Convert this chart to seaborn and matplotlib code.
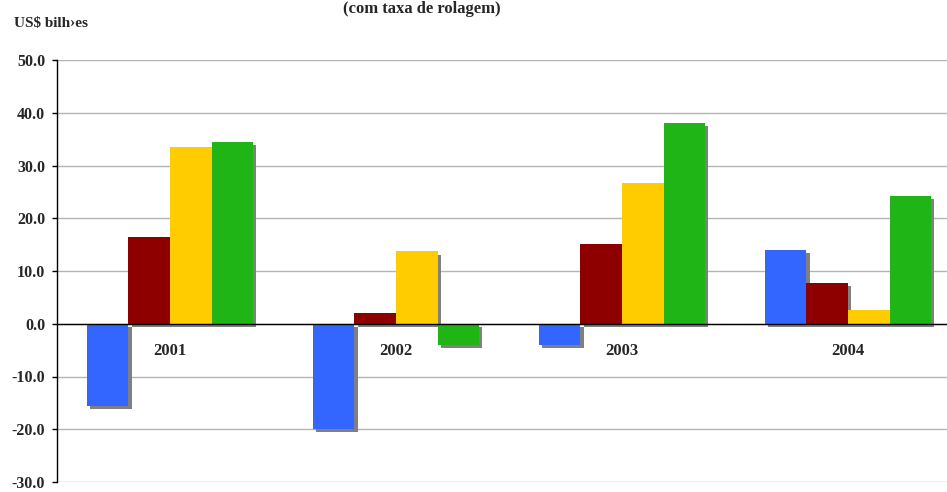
import pandas as pd
import matplotlib.pyplot as plt
import matplotlib.patheffects as pe
import seaborn as sns

# data (US$ bilhões)
anos = ['2001', '2002', '2003', '2004']
series = ['Série 1', 'Série 2', 'Série 3', 'Série 4']
serie_1 = [-15.6, -20.0, -4.0, 13.9]
serie_2 = [16.4, 2.1, 15.2, 7.7]
serie_3 = [33.6, 13.7, 26.7, 2.7]
serie_4 = [34.4, -4.0, 38.0, 24.3]
cores = ['#3366FF', '#8E0000', '#FFCC00', '#20B516']
y_ticks = [-30, -20, -10, 0, 10, 20, 30, 40, 50]

rows = []
for nome, vals in zip(series, [serie_1, serie_2, serie_3, serie_4]):
    for ano, v in zip(anos, vals):
        rows.append({'ano': ano, 'serie': nome, 'valor': v})
df = pd.DataFrame(rows)

sns.set_style('white')
plt.rcParams['font.family'] = ['Liberation Serif', 'DejaVu Serif']
plt.rcParams['font.weight'] = 'bold'

fig = plt.figure(figsize=(9.47, 4.92), dpi=100)
ax = fig.add_axes([57 / 947, 10 / 492, 890 / 947, 422 / 492])

sns.barplot(data=df, x='ano', y='valor', hue='serie', palette=cores,
            width=0.735, saturation=1, legend=False, ax=ax)

# grey drop shadow on every bar
for p in ax.patches:
    p.set_linewidth(0)
    p.set_path_effects([pe.SimplePatchShadow(offset=(2.2, -2.2), shadow_rgbFace='#808080', alpha=1),
                        pe.Normal()])

ax.set_ylim(-30, 50)
ax.set_xlim(-0.5, -0.5 + 890 / 226)
ax.set_yticks(y_ticks)
ax.set_yticklabels([f'{v:.1f}' for v in y_ticks])
ax.yaxis.grid(True, color='#b4b4b4', lw=1)
ax.set_axisbelow(True)

ax.set_xticks([0.5, 1.5, 2.5])
ax.set_xticklabels([])
ax.set_xticks(range(len(anos)), minor=True)
ax.set_xticklabels(anos, minor=True)
ax.tick_params(axis='x', which='major', direction='out', length=4, color='#555555', width=1)
ax.tick_params(axis='x', which='minor', length=0, pad=14, labelsize=12)
ax.tick_params(axis='y', direction='out', length=3.6, width=1, color='black', pad=5, labelsize=11.5, left=True)

ax.spines['top'].set_visible(False)
ax.spines['right'].set_visible(False)
ax.spines['bottom'].set_position(('data', 0))
ax.spines['bottom'].set_color('black')
ax.spines['left'].set_color('black')
ax.spines['left'].set_linewidth(1)
ax.spines['bottom'].set_linewidth(1)
ax.set_xlabel('')
ax.set_ylabel('')

fig.text(422 / 947, 1 - 1 / 492, '(com taxa de rolagem)', ha='center', va='top', fontsize=12, fontweight='bold')
fig.text(14 / 947, 1 - 23 / 492, 'US$ bilh›es', ha='left', va='center', fontsize=11, fontweight='bold')

fig.savefig('out.png', dpi=100)
